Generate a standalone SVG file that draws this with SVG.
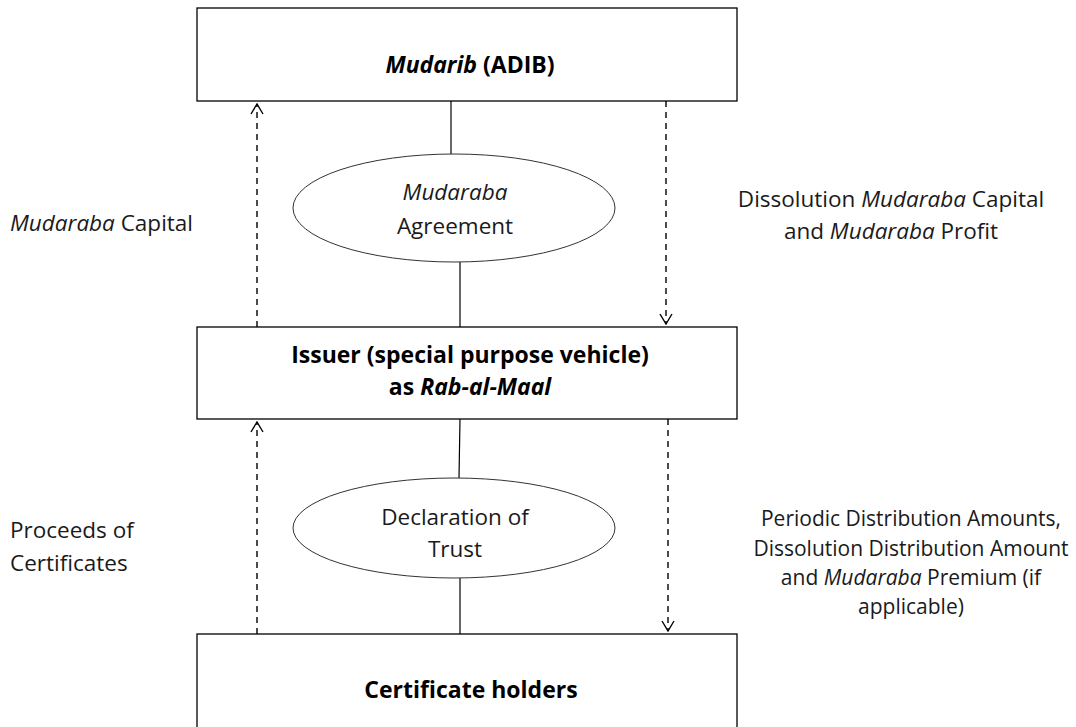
<svg xmlns="http://www.w3.org/2000/svg" width="1076" height="727" viewBox="0 0 1076 727">
<defs>
<marker id="open" viewBox="0 0 12 14" refX="11" refY="7" markerWidth="12" markerHeight="14" markerUnits="userSpaceOnUse" orient="auto">
<path d="M1,1 L11,7 L1,13" fill="none" stroke="#000" stroke-width="1.4"/>
</marker>
<style>
.box{fill:#fff;stroke:#000;stroke-width:1.3}
.ell{fill:#fff;stroke:#333;stroke-width:1}
.solid{stroke:#000;stroke-width:1.2;fill:none}
.dash{stroke:#000;stroke-width:1.4;fill:none;stroke-dasharray:6 5}
text{font-family:"Open Sans","Noto Sans","DejaVu Sans",sans-serif;fill:#1a1a1a}
.b{font-weight:bold;font-size:23px;fill:#000}
.lbl{font-size:22.5px}
.sm{font-size:21px}
.i{font-style:italic}
</style>
</defs>
<rect width="1076" height="727" fill="#fff"/>
<g id="connectors">
<line class="solid" x1="451" y1="101" x2="451" y2="154"/>
<line class="solid" x1="460" y1="262" x2="460" y2="327"/>
<line class="solid" x1="460" y1="419" x2="459" y2="478"/>
<line class="solid" x1="460" y1="578" x2="460" y2="634"/>
<line class="dash" x1="257" y1="327" x2="257" y2="104" marker-end="url(#open)"/>
<line class="dash" x1="666" y1="101" x2="666" y2="324" marker-end="url(#open)"/>
<line class="dash" x1="257" y1="634" x2="257" y2="422" marker-end="url(#open)"/>
<line class="dash" x1="668" y1="419" x2="668" y2="631" marker-end="url(#open)"/>
</g>
<g id="mudarib">
<rect class="box" x="197" y="8" width="540" height="93"/>
<text class="b" x="470" y="73" text-anchor="middle"><tspan class="i">Mudarib</tspan> (ADIB)</text>
</g>
<g id="mudaraba-agreement">
<ellipse class="ell" cx="454" cy="208" rx="161" ry="54"/>
<text class="lbl" x="455" y="200" text-anchor="middle"><tspan class="i">Mudaraba</tspan></text>
<text class="lbl" x="455" y="234" text-anchor="middle">Agreement</text>
</g>
<g id="issuer">
<rect class="box" x="197" y="327" width="540" height="92"/>
<text class="b" x="470" y="363" text-anchor="middle">Issuer (special purpose vehicle)</text>
<text class="b" x="470" y="395" text-anchor="middle">as <tspan class="i">Rab-al-Maal</tspan></text>
</g>
<g id="declaration-of-trust">
<ellipse class="ell" cx="454" cy="528" rx="161" ry="50"/>
<text class="lbl" x="455" y="525" text-anchor="middle">Declaration of</text>
<text class="lbl" x="455" y="557" text-anchor="middle">Trust</text>
</g>
<g id="certificate-holders">
<rect class="box" x="197" y="634" width="540" height="100"/>
<text class="b" x="471" y="698" text-anchor="middle">Certificate holders</text>
</g>
<g id="labels">
<text class="lbl" x="10" y="231"><tspan class="i">Mudaraba</tspan> Capital</text>
<text class="lbl" x="891" y="207" text-anchor="middle">Dissolution <tspan class="i">Mudaraba</tspan> Capital</text>
<text class="lbl" x="891" y="239" text-anchor="middle">and <tspan class="i">Mudaraba</tspan> Profit</text>
<text class="lbl" x="10" y="538">Proceeds of</text>
<text class="lbl" x="10" y="571">Certificates</text>
<text class="sm" x="911" y="526" text-anchor="middle">Periodic Distribution Amounts,</text>
<text class="sm" x="911" y="556" text-anchor="middle">Dissolution Distribution Amount</text>
<text class="sm" x="911" y="585" text-anchor="middle">and <tspan class="i">Mudaraba</tspan> Premium (if</text>
<text class="sm" x="911" y="614" text-anchor="middle">applicable)</text>
</g>
</svg>
